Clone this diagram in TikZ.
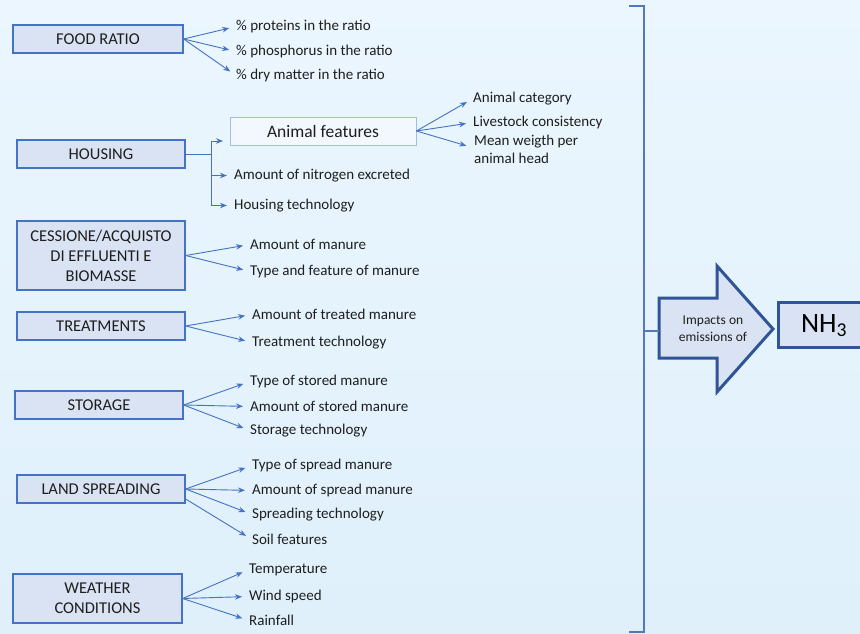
\documentclass[tikz,border=0pt]{standalone}
\usepackage{fontspec}
\setmainfont{Carlito}
\usetikzlibrary{arrows.meta}
\definecolor{accent}{RGB}{68,114,196}
\definecolor{boxfill}{RGB}{218,227,243}
\definecolor{darkb}{RGB}{47,85,151}
\definecolor{brk}{RGB}{84,120,186}
\definecolor{bgtop}{RGB}{235,246,254}
\definecolor{bgbot}{RGB}{223,240,251}
\definecolor{txt}{RGB}{30,30,30}
\begin{document}
\begin{tikzpicture}[x=1pt,y=-1pt,
  catbox/.style={draw=accent, fill=boxfill, line width=1.3pt, minimum width=168pt, minimum height=28pt, inner sep=2pt, align=center, text=txt, font=\fontsize{16.5}{20}\selectfont},
  item/.style={anchor=west, inner sep=0pt, text=txt, align=left, font=\fontsize{15}{18}\selectfont},
  arr/.style={-{Stealth[length=7pt,width=5.5pt]}, draw=accent, line width=0.9pt, shorten >=7pt},
  ln/.style={draw=accent, line width=1.2pt}
]
\useasboundingbox (0,0) rectangle (860,634);
\shade[top color=bgtop, bottom color=bgbot] (0,0) rectangle (860,634);

% category boxes
\node[catbox, minimum width=170pt] (fr) at (98,39) {FOOD RATIO};
\node[catbox] (ho) at (101,154) {HOUSING};
\node[catbox, minimum height=69pt] (ce) at (101,255.5) {CESSIONE/ACQUISTO\\DI EFFLUENTI E\\BIOMASSE};
\node[catbox] (tr) at (101,326) {TREATMENTS};
\node[catbox] (st) at (99,405) {STORAGE};
\node[catbox] (ls) at (101,489) {LAND SPREADING};
\node[catbox, minimum height=49pt, minimum width=169pt] (we) at (97.5,598.5) {WEATHER\\CONDITIONS};

% animal features
\node[draw={rgb,255:red,160;green,190;blue,230}, fill={rgb,255:red,242;green,248;blue,254}, line width=0.8pt, minimum width=186pt, minimum height=28pt, text=txt, font=\fontsize{17.5}{21}\selectfont] (af) at (323,131) {Animal features};

% items
\node[item] (fr1) at (236,26.5) {\% proteins in the ratio};
\node[item] (fr2) at (236,51.5) {\% phosphorus in the ratio};
\node[item] (fr3) at (236,75.5) {\% dry matter in the ratio};

\node[item] (af1) at (473,98.5) {Animal category};
\node[item] (af2) at (473,122.5) {Livestock consistency};
\node[item] (af3) at (474,149) {Mean weigth per\\animal head};

\node[item] (ho2) at (234,175.5) {Amount of nitrogen excreted};
\node[item] (ho3) at (234,205.5) {Housing technology};

\node[item] (ce1) at (250,244.5) {Amount of manure};
\node[item] (ce2) at (250,271.5) {Type and feature of manure};

\node[item] (tr1) at (252,314.5) {Amount of treated manure};
\node[item] (tr2) at (252,342.5) {Treatment technology};

\node[item] (st1) at (250,381.5) {Type of stored manure};
\node[item] (st2) at (250,406.5) {Amount of stored manure};
\node[item] (st3) at (250,430.5) {Storage technology};

\node[item] (ls1) at (252,465.5) {Type of spread manure};
\node[item] (ls2) at (252,490.5) {Amount of spread manure};
\node[item] (ls3) at (252,514.5) {Spreading technology};
\node[item] (ls4) at (252,539.5) {Soil features};

\node[item] (we1) at (249,569.5) {Temperature};
\node[item] (we2) at (249,596.5) {Wind speed};
\node[item] (we3) at (249,620.5) {Rainfall};

% connectors
\foreach \t in {fr1,fr2,fr3} \draw[arr] (fr.east) -- (\t.west);
\draw[arr] (af.east) -- (af1.west);
\draw[arr] (af.east) -- (af2.west);
\draw[arr, shorten >=8pt] (af.east) -- ([yshift=1pt]af3.west);
\foreach \t in {ce1,ce2} \draw[arr] (ce.east) -- (\t.west);
\foreach \t in {tr1,tr2} \draw[arr] (tr.east) -- (\t.west);
\foreach \t in {st1,st2,st3} \draw[arr] (st.east) -- (\t.west);
\foreach \t in {ls1,ls2,ls3} \draw[arr] (ls.east) -- (\t.west);
\draw[arr] ([yshift=-10pt]ls.east) -- (ls4.west);
\foreach \t in {we1,we2,we3} \draw[arr] (we.east) -- (\t.west);

% housing elbow
\coordinate (hj) at (211,154);
\coordinate (hjt) at (211,141);
\draw[ln, line width=1pt] (ho.east) -- (hj);
\draw[ln, line width=1pt] (hjt) -- (hj |- ho3.west);
\draw[arr, shorten >=0pt] (hjt) -- (223,141);
\draw[arr] (hj |- ho2.west) -- (ho2.west);
\draw[arr] (hj |- ho3.west) -- (ho3.west);

% bracket
\coordinate (bt) at (629,6);
\coordinate (bb) at (629,632);
\coordinate (bm) at (644,331);
\draw[draw=brk, line width=2pt] (bt) -- (644,6) -- (644,632) -- (bb);

% block arrow
\draw[draw=darkb, fill=boxfill, line width=3pt, line join=miter]
  (659,298) -- (717,298) -- (717,266) -- (773,329) -- (717,392) -- (717,358) -- (659,358) -- cycle;
\coordinate (arL) at (659,331);
\draw[draw=brk, line width=1.2pt] (bm) -- (arL);
\node[inner sep=0pt, align=center, text=txt, font=\fontsize{13.5}{17}\selectfont] (imp) at (713,329) {Impacts on\\emissions of};

% NH3 box
\draw[draw=darkb, fill=boxfill, line width=3pt] (778,302) rectangle (875,347);
\node[inner sep=0pt, text=black, font=\fontsize{28}{30}\selectfont] (nh) at (824,326) {NH\textsubscript{3}};
\end{tikzpicture}
\end{document}
